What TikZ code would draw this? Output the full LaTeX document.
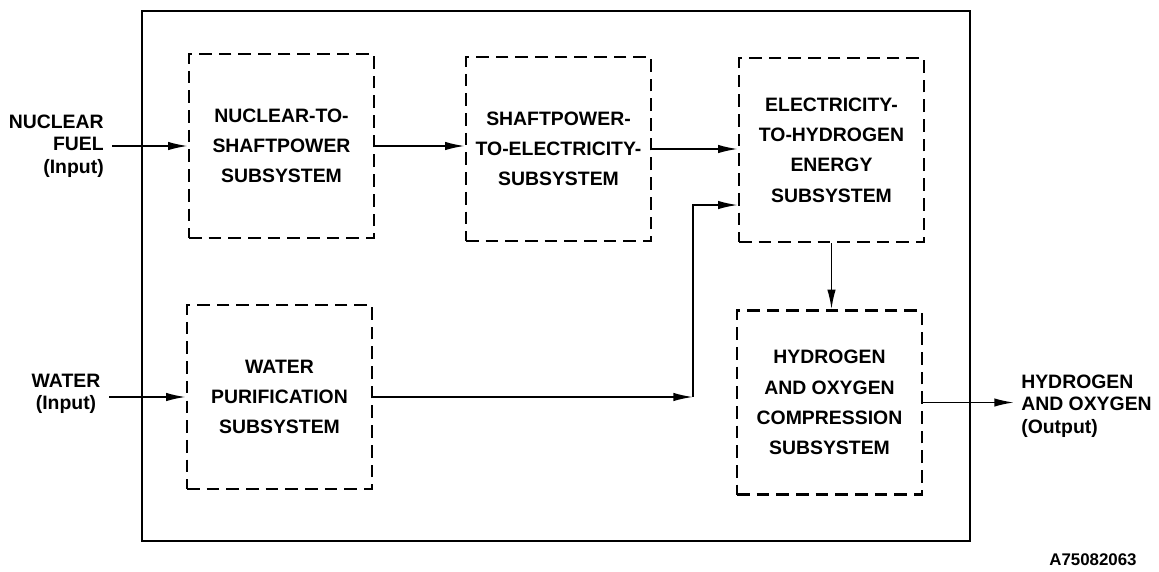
\documentclass[tikz,border=0pt]{standalone}
\usepackage{fontspec}
\setmainfont{Liberation Sans}
\usetikzlibrary{positioning, arrows.meta, calc}
\tikzset{
    subsys/.style={rectangle, draw=black, line width=1.7pt, dash pattern=on 9pt off 5pt, minimum width=4.625cm, minimum height=4.6cm, align=center, font=\fontsize{13.8}{21.5}\selectfont\bfseries, inner sep=0pt},
    iolabel/.style={font=\fontsize{13.8}{16}\selectfont\bfseries, inner sep=0pt},
    flow/.style={-{Latex[length=14pt,width=6pt]}, line width=1.2pt},
    framebox/.style={line width=1.5pt}
}
\begin{document}
\begin{tikzpicture}[x=0.025cm, y=-0.025cm]
        \useasboundingbox (0,0) rectangle (1159,572);

        % System boundary
        \draw[framebox] (142,11) rectangle (970,541);

        % Subsystems
        \node[subsys] (nuc) at (281.5,146) {NUCLEAR-TO-\\SHAFTPOWER\\SUBSYSTEM};
        \node[subsys] (shaft) at (558.5,149) {SHAFTPOWER-\\TO-ELECTRICITY-\\SUBSYSTEM};
        \node[subsys] (elec) at (831.5,150) {ELECTRICITY-\\TO-HYDROGEN\\ENERGY\\SUBSYSTEM};
        \node[subsys] (wat) at (279.5,397) {WATER\\PURIFICATION\\SUBSYSTEM};
        \node[subsys] (comp) at (829.5,402.5) {HYDROGEN\\AND OXYGEN\\COMPRESSION\\SUBSYSTEM};

        % Inputs and output
        \node[iolabel, anchor=east, align=right] (fuel) at (104,146) {NUCLEAR\\FUEL\\(Input)};
        \node[iolabel, align=center] (water) at (66,394) {WATER\\(Input)};
        \node[iolabel, anchor=west, align=left] (htwo) at (1021,406) {HYDROGEN\\AND OXYGEN\\(Output)};
        \node[font=\fontsize{12}{14}\selectfont\bfseries] (dwg) at (1093,560) {A75082063};

        % Flows
        \draw[flow] ([xshift=6pt]nuc.west -| fuel.east) -- (nuc.west);
        \draw[flow] ([xshift=6pt]wat.west -| water.east) -- (wat.west);
        \draw[flow] (nuc.east) -- (nuc.east -| shaft.west);
        \draw[flow] (shaft.east) -- (shaft.east -| elec.west);
        \draw[flow] (elec.south) -- (elec.south |- comp.north);
        \coordinate (bend) at (693,397);
        \draw[flow] (wat.east) -- (bend);
        \draw[flow] (bend) |- ([yshift=-1.375cm]elec.west);
        \draw[flow] (comp.east) -- ([xshift=-5pt]comp.east -| htwo.west);

    \end{tikzpicture}
\end{document}
